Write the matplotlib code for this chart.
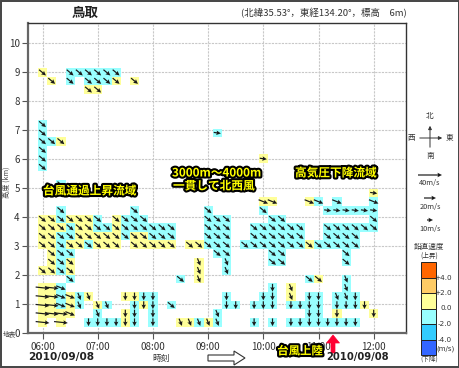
import matplotlib
matplotlib.use("Agg")
import matplotlib.pyplot as plt
import matplotlib.patheffects as pe
from matplotlib.colors import ListedColormap
from matplotlib.patches import Rectangle, Polygon
import numpy as np

plt.rcParams['font.family'] = ['Noto Sans CJK JP', 'DejaVu Sans']

W, H = 460, 368

hour_ticks = [6, 7, 8, 9, 10, 11, 12]
hour_labels = ['06:00', '07:00', '08:00', '09:00', '10:00', '11:00', '12:00']
km_ticks = list(range(11))

# observation times, minutes after 06:00 (every 10 min)
obs_minutes = list(range(0, 370, 10))
# range gates (km)
gate_km = [0.38, 0.68, 0.97, 1.27, 1.57, 1.87, 2.16, 2.46, 2.76, 3.05,
           3.35, 3.65, 3.94, 4.24, 4.54, 4.84, 5.13, 5.43, 5.73, 6.02,
           6.32, 6.62, 6.91, 7.21, 7.51, 7.81, 8.10, 8.40, 8.70, 8.99]

# one string per gate, top gate first, one char per 10-min step
# upper case: w 0..+2 m/s (yellow), lower case: w -2..0 m/s (cyan)
# letter: arrow code below
rows = [
    "A..aaa" "aaa..." "......" "......" "......" "......" ".",   # 8.99
    ".A.a.a" "aaA.A." "......" "......" "......" "......" ".",
    ".....A" "A....." "......" "......" "......" "......" ".",
    "......" "......" "......" "......" "......" "......" ".",
    "......" "......" "......" "......" "......" "......" ".",
    "......" "......" "......" "......" "......" "......" ".",
    "a....." "......" "......" "......" "......" "......" ".",   # 7.21
    "a....." "......" "......" ".r...." "......" "......" ".",
    "aaA..." "......" "......" "......" "......" "......" ".",
    "a....." "......" "......" "......" "......" "......" ".",
    "a....." "......" "......" "......" "R....." "......" ".",
    "a....." "......" "......" "......" "......" "......" ".",
    "......" "......" "......" "......" "......" "......" ".",
    "..a..." "......" "......" "......" "......" "......" ".",   # 5.13
    "......" "......" "......" "......" "......" "......" "R",
    "......" "......" "......" "......" "BB...B" "b.b..." "b",
    "..a..." "....a." "......" "a....." "a....." ".rrrrr" "r",
    "AAaAAA" "a.Aaaa" "......" "aaa..." ".aa..." "......" "a",
    "AAAaAA" "aaAaaa" "aaa..." "aaa..a" "aaaaa." ".aaaaa" "a",
    "AAaaAA" "AAAaAA" "aaa..." "aaa..a" "aaaaa." ".aaaa." ".",
    "AAaAAa" "AAA.AA" "AAA.AA" "aaa.aa" "aaaaaA" "aaaaa." ".",   # 3.05
    ".Aaa.." "......" "......" ".aa..." ".aa..." "...a.." ".",
    ".AaA.." "......" ".....T" "..t..." ".aa..." "...a.." ".",
    "AAaA.." "......" ".....T" "..t..." "......" "......" ".",
    "...a.." "......" "...a.T" "......" ".....a" "A..t.." ".",
    "EEb..." "......" "......" "......" ".s.T.." "...t.." ".",
    "EEbBtT" "...SSs" "s....." "..s..." "ss.T.s" "s.tts." ".",
    "EEbBt." "Tt..sS" "s.a..." "..ss.s" "ss.sss" "s.sssS" ".",
    "EEEB.." "t..Ss." "s....." ".t...." ".....s" "s.S..." "S",
    "E.E..s" "sssSs." "s..TTt" "Tt...s" ".s.sss" "sssss." ".",   # 0.38
]

# arrow code -> (screen angle of arrow in deg, speed m/s)
arrow_codes = {
    'a': (-40, 15), 'b': (-22, 17), 'e': (-6, 23), 'r': (-8, 12),
    's': (-90, 13), 't': (-68, 13),
}

cell_colors = ['#99FFFF', '#FFFF99']
cb_colors = ['#FF6600', '#FFCC66', '#FFFF99', '#99FFFF', '#33CCFF', '#3366FF']
cb_labels = ['+4.0', '+2.0', '0.0', '-2.0', '-4.0']
legend_speeds = [40, 20, 10]

# ---- build grids
t_hours = 6 + np.array(obs_minutes) / 60.0
z = np.array(gate_km)
grid = np.full((len(z), len(t_hours)), np.nan)
qx, qy, qu, qv = [], [], [], []
for k, row in enumerate(reversed(rows)):
    for c, ch in enumerate(row):
        if ch == '.':
            continue
        grid[k, c] = 1 if ch.isupper() else 0
        ang, spd = arrow_codes[ch.lower()]
        qx.append(t_hours[c])
        qy.append(z[k])
        qu.append(spd * np.cos(np.radians(ang)))
        qv.append(spd * np.sin(np.radians(ang)))

dt = 5 / 60.0
dz = 0.1485
x_edges = np.append(t_hours - dt, t_hours[-1] + dt)
z_edges = np.append(z - dz, z[-1] + dz)

fig = plt.figure(figsize=(W / 100, H / 100), dpi=100)
fig.patch.set_facecolor('white')

ax_l, ax_r, ax_t, ax_b = 28, 406, 23, 333.3
ax = fig.add_axes([ax_l / W, 1 - ax_b / H, (ax_r - ax_l) / W, (ax_b - ax_t) / H])

ax.pcolormesh(x_edges, z_edges, np.ma.masked_invalid(grid),
              cmap=ListedColormap(cell_colors), vmin=0, vmax=1, zorder=2)

qkw = dict(angles='uv', scale_units='dots', scale=1 / 0.6, units='dots',
           width=1.2, headwidth=3.8, headlength=3.8, headaxislength=3.3,
           color='#1a1a1a', pivot='middle')
ax.quiver(qx, qy, qu, qv, zorder=3, **qkw)

ax.set_xlim(5.737, 12.585)
ax.set_ylim(0, 10.70)
ax.set_xticks(hour_ticks)
ax.set_xticklabels(hour_labels)
ax.set_yticks(km_ticks)
ax.set_yticklabels([str(v) for v in km_ticks])
ax.tick_params(axis='both', labelsize=7, colors='#555', labelcolor='#333',
               length=4, width=0.8, pad=2)
ax.grid(color='#c8c8c8', linestyle=(0, (2, 1)), linewidth=0.8)
ax.set_axisbelow(True)
for s in ['left', 'bottom']:
    ax.spines[s].set_color('#666')
    ax.spines[s].set_linewidth(1.6)
for s in ['top', 'right']:
    ax.spines[s].set_color('#333')
    ax.spines[s].set_linewidth(1.0)

# ---- overlay in pixel coordinates
ov = fig.add_axes([0, 0, 1, 1])
ov.set_xlim(0, W)
ov.set_ylim(H, 0)
ov.axis('off')

ov.add_patch(Rectangle((0.7, 0.7), W - 1.4, H - 1.4, fill=False, ec='#444', lw=1.4))

ov.text(85, 13, '鳥取', ha='center', va='center', fontsize=9.7,
        fontweight='bold', color='#222')
ov.text(407, 13, '(北緯35.53°，東経134.20°，標高　6m)', ha='right', va='center',
        fontsize=6.8, color='#333')
ov.text(7, 182, '高度 (km)', rotation=90, ha='center', va='center',
        fontsize=5.2, color='#444')
ov.text(9, 334, '地表', ha='center', va='center', fontsize=4.8, color='#444')

ov.text(28, 357, '2010/09/08', ha='left', va='center', fontsize=7.6,
        fontweight='bold', family='DejaVu Sans', color='#222')
ov.text(326, 357, '2010/09/08', ha='left', va='center', fontsize=7.2,
        fontweight='bold', family='DejaVu Sans', color='#222')
ov.text(161, 358, '時刻', ha='center', va='center', fontsize=6.3, color='#333')

ov.add_patch(Polygon([(208, 355), (234, 355), (234, 351), (245, 358),
                      (234, 365), (234, 361), (208, 361)],
                     closed=True, fc='white', ec='#333', lw=0.8))
ov.add_patch(Polygon([(333, 335), (339.5, 343), (335, 343), (335, 353),
                      (331, 353), (331, 343), (326.5, 343)],
                     closed=True, fc='#FF0033', ec='#FF0033', lw=0.5))

glow = [pe.withStroke(linewidth=3, foreground='black')]
note_kw = dict(color='#FFFF00', fontweight='bold', fontsize=8.4,
               va='center', path_effects=glow)
ov.text(43, 191, '台風通過上昇流域', ha='left', **note_kw)
ov.text(172, 173, '3000m～4000m', ha='left', **note_kw)
ov.text(173, 186, '一貫して北西風', ha='left', **note_kw)
ov.text(295, 173, '高気圧下降流域', ha='left', **note_kw)
# sits over the 11:00 tick label, as in the original
ov.text(300, 351, '台風上陸', ha='center', color='#FFFF00', fontweight='bold',
        fontsize=8.2, va='center', path_effects=glow)

# compass
leg_c = '#333'
ov.annotate('', xy=(430, 123), xytext=(430, 150),
            arrowprops=dict(arrowstyle='-|>', color=leg_c, lw=0.7, mutation_scale=5))
ov.annotate('', xy=(445, 138), xytext=(417, 138),
            arrowprops=dict(arrowstyle='-|>', color=leg_c, lw=0.7, mutation_scale=5))
for txt, px, py in [('北', 430, 116), ('南', 430, 156), ('西', 411, 138), ('東', 450, 138)]:
    ov.text(px, py, txt, ha='center', va='center', fontsize=5.5, color=leg_c)

# speed legend
leg_y = [175, 198, 220]
ov.quiver([430] * 3, leg_y, legend_speeds, [0] * 3, **qkw)
for spd, py in zip(legend_speeds, leg_y):
    ov.text(430, py + 8.5, f'{spd}m/s', ha='center', va='center',
            fontsize=5.3, color=leg_c)

# vertical velocity colour scale
ov.text(429, 247, '鉛直速度', ha='center', va='center', fontsize=5.5, color=leg_c)
ov.text(429, 255.5, '(上昇)', ha='center', va='center', fontsize=4.8, color=leg_c)
box_h = 15.5
for i, col in enumerate(cb_colors):
    ov.add_patch(Rectangle((421, 262 + i * box_h), 15, box_h, fc=col,
                           ec='#222', lw=0.7))
for i, lab in enumerate(cb_labels):
    ov.text(452, 262 + (i + 1) * box_h, lab, ha='right', va='center',
            fontsize=5.2, family='DejaVu Sans', color=leg_c)
ov.text(446, 349, '(m/s)', ha='center', va='center', fontsize=5.0,
        family='DejaVu Sans', color=leg_c)
ov.text(429, 360, '(下降)', ha='center', va='center', fontsize=4.8, color=leg_c)

fig.savefig('out.png', dpi=100)
